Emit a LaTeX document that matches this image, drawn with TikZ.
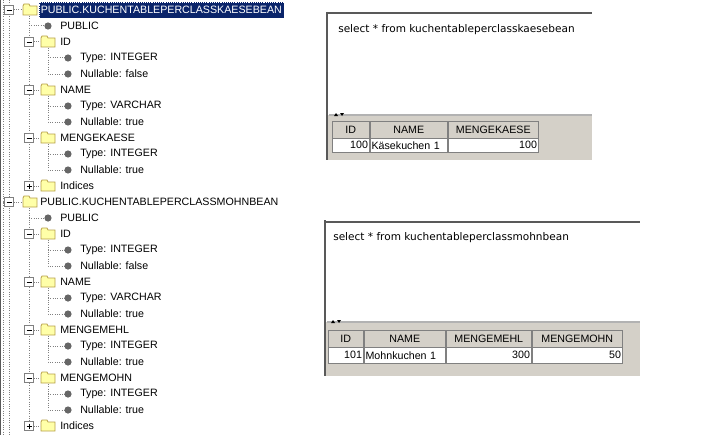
\documentclass[tikz,border=0pt]{standalone}
\usepackage{fontspec}
\setmainfont{Liberation Sans}
\newfontfamily\queryfont{DejaVu Sans}
\definecolor{winnavy}{HTML}{0A246A}
\definecolor{wingray}{HTML}{D4D0C8}
\definecolor{fldyel}{HTML}{FFFFA8}
\definecolor{fldedge}{HTML}{B8A048}
\tikzset{
  treeline/.style={gray,densely dotted,line width=0.75pt},
  lbl/.style={font=\fontsize{8}{9}\selectfont,inner sep=0pt,anchor=west},
  qlbl/.style={font=\queryfont\fontsize{7.9}{9}\selectfont,inner sep=0pt,anchor=west},
  hdrcell/.style={fill=wingray,draw=gray},
  datcell/.style={fill=white,draw=gray}
}
% folder icon centred at (x,y)
\newcommand\fldr[2]{%
  \filldraw[fill=fldyel,draw=fldedge,line width=0.6pt] (#1-7,#2-4) -- (#1-6,#2-6) -- (#1-1,#2-6) -- (#1,#2-4) -- (#1+7,#2-4) -- (#1+7,#2+5) -- (#1-7,#2+5) -- cycle;}
% expand box: x, y, 1=minus 0=plus
\newcommand\xbox[3]{%
  \filldraw[fill=white,draw=gray,line width=0.6pt] (#1-4.5,#2-4.5) rectangle (#1+4.5,#2+4.5);
  \draw[line width=0.7pt] (#1-2.5,#2) -- (#1+2.5,#2);
  \ifnum#3=0 \draw[line width=0.7pt] (#1,#2-2.5) -- (#1,#2+2.5);\fi}
\newcommand\leaf[2]{\fill[gray!80!black] (#1,#2) circle (3.6);}
% column: y, name, type, nullable
\newcommand\colnode[4]{%
  \draw[treeline] (29,#1) -- (41,#1);
  \draw[treeline] (48,#1+6) -- (48,#1+32) -- (68,#1+32);
  \draw[treeline] (48,#1+16) -- (68,#1+16);
  \xbox{29}{#1}{1}\fldr{48}{#1}
  \node[lbl] (col#1) at (60,#1) {#2};
  \leaf{68}{#1+16}\node[lbl] (typ#1) at (80,#1+16) {Type: #3};
  \leaf{68}{#1+32}\node[lbl] (nul#1) at (80,#1+32) {Nullable: #4};}
\begin{document}
\begin{tikzpicture}[x=0.75pt,y=-0.75pt]
\useasboundingbox (0,0) rectangle (712,435);
\fill[white] (0,0) rectangle (712,435);
%tree frame
\draw[gray!70!black,line width=0.8pt] (0.5,0) -- (0.5,435);
\draw[treeline] (3,0) -- (3,435);
\draw[treeline] (3,10) -- (9,10) (3,202) -- (9,202) (9,0) -- (9,435);
%first table
\draw[treeline] (9,10) -- (22,10) (29,16) -- (29,186) (29,26) -- (48,26);
\xbox{9}{10}{1}\fldr{30}{10}
\node[lbl,text=white,fill=winnavy,inner xsep=1.5pt,minimum height=12pt,draw=white,densely dotted,line width=0.4pt] (tabkaese) at (38.5,10) {PUBLIC.KUCHENTABLEPERCLASSKAESEBEAN};
\leaf{48}{26}\node[lbl] (pubkaese) at (60,26) {PUBLIC};
\colnode{42}{ID}{INTEGER}{false}
\colnode{90}{NAME}{VARCHAR}{true}
\colnode{138}{MENGEKAESE}{INTEGER}{true}
\draw[treeline] (29,186) -- (41,186);
\xbox{29}{186}{0}\fldr{48}{186}\node[lbl] (idxkaese) at (60,186) {Indices};
%second table
\draw[treeline] (9,202) -- (22,202) (29,208) -- (29,426) (29,218) -- (48,218);
\xbox{9}{202}{1}\fldr{30}{202}
\node[lbl] (tabmohn) at (40,202) {PUBLIC.KUCHENTABLEPERCLASSMOHNBEAN};
\leaf{48}{218}\node[lbl] (pubmohn) at (60,218) {PUBLIC};
\colnode{234}{ID}{INTEGER}{false}
\colnode{282}{NAME}{VARCHAR}{true}
\colnode{330}{MENGEMEHL}{INTEGER}{true}
\colnode{378}{MENGEMOHN}{INTEGER}{true}
\draw[treeline] (29,426) -- (41,426);
\xbox{29}{426}{0}\fldr{48}{426}\node[lbl] (idxmohn) at (60,426) {Indices};
%query panel kaese
\fill[wingray] (326,115) rectangle (592,160);
\draw[gray!60,line width=1.2pt] (329,115) -- (592,115);
\draw[gray!70!black,line width=1.5pt] (327,13) -- (592,13) (327,12) -- (327,160);
\fill (334,116) -- (338,116) -- (336,113) -- cycle (340,113) -- (344,113) -- (342,116) -- cycle;
\node[qlbl] (qkaese) at (338,30) {select * from kuchentableperclasskaesebean};
\foreach \xa/\xb/\tx [count=\i] in {332/369/ID,370/447/NAME,448/538/MENGEKAESE}
  \node[hdrcell,minimum width=(\xb-\xa)*0.75pt,minimum height=12.5pt,anchor=north west,inner sep=0pt,font=\fontsize{8}{9}\selectfont] (hk\i) at (\xa,121) {\tx};
\node[datcell,minimum width=27.75pt,minimum height=10.5pt,anchor=north west,inner sep=1pt,text width=25.75pt,align=right,font=\fontsize{8}{9}\selectfont] (dk1) at (332,138) {100};
\node[datcell,minimum width=57.75pt,minimum height=10.5pt,anchor=north west,inner sep=1pt,text width=55.75pt,align=left,font=\fontsize{8}{9}\selectfont] (dk2) at (370,138) {Käsekuchen 1};
\node[datcell,minimum width=67.5pt,minimum height=10.5pt,anchor=north west,inner sep=1pt,text width=65.5pt,align=right,font=\fontsize{8}{9}\selectfont] (dk3) at (448,138) {100};
%query panel mohn
\fill[wingray] (324,322) rectangle (640,376);
\draw[gray!60,line width=1.2pt] (327,322) -- (640,322);
\draw[gray!70!black,line width=1.5pt] (325,222) -- (640,222) (325,220) -- (325,376);
\fill (331,323) -- (335,323) -- (333,320) -- cycle (337,320) -- (341,320) -- (339,323) -- cycle;
\node[qlbl] (qmohn) at (333,238) {select * from kuchentableperclassmohnbean};
\foreach \xa/\xb/\tx [count=\i] in {328/363/ID,364/445/NAME,446/531/MENGEMEHL,532/622/MENGEMOHN}
  \node[hdrcell,minimum width=(\xb-\xa)*0.75pt,minimum height=12.5pt,anchor=north west,inner sep=0pt,font=\fontsize{8}{9}\selectfont] (hm\i) at (\xa,330) {\tx};
\node[datcell,minimum width=26.25pt,minimum height=12pt,anchor=north west,inner sep=1pt,text width=24.25pt,align=right,font=\fontsize{8}{9}\selectfont] (dm1) at (328,347) {101};
\node[datcell,minimum width=60.75pt,minimum height=12pt,anchor=north west,inner sep=1pt,text width=58.75pt,align=left,font=\fontsize{8}{9}\selectfont] (dm2) at (364,347) {Mohnkuchen 1};
\node[datcell,minimum width=63.75pt,minimum height=12pt,anchor=north west,inner sep=1pt,text width=61.75pt,align=right,font=\fontsize{8}{9}\selectfont] (dm3) at (446,347) {300};
\node[datcell,minimum width=67.5pt,minimum height=12pt,anchor=north west,inner sep=1pt,text width=65.5pt,align=right,font=\fontsize{8}{9}\selectfont] (dm4) at (532,347) {50};
\end{tikzpicture}
\end{document}
